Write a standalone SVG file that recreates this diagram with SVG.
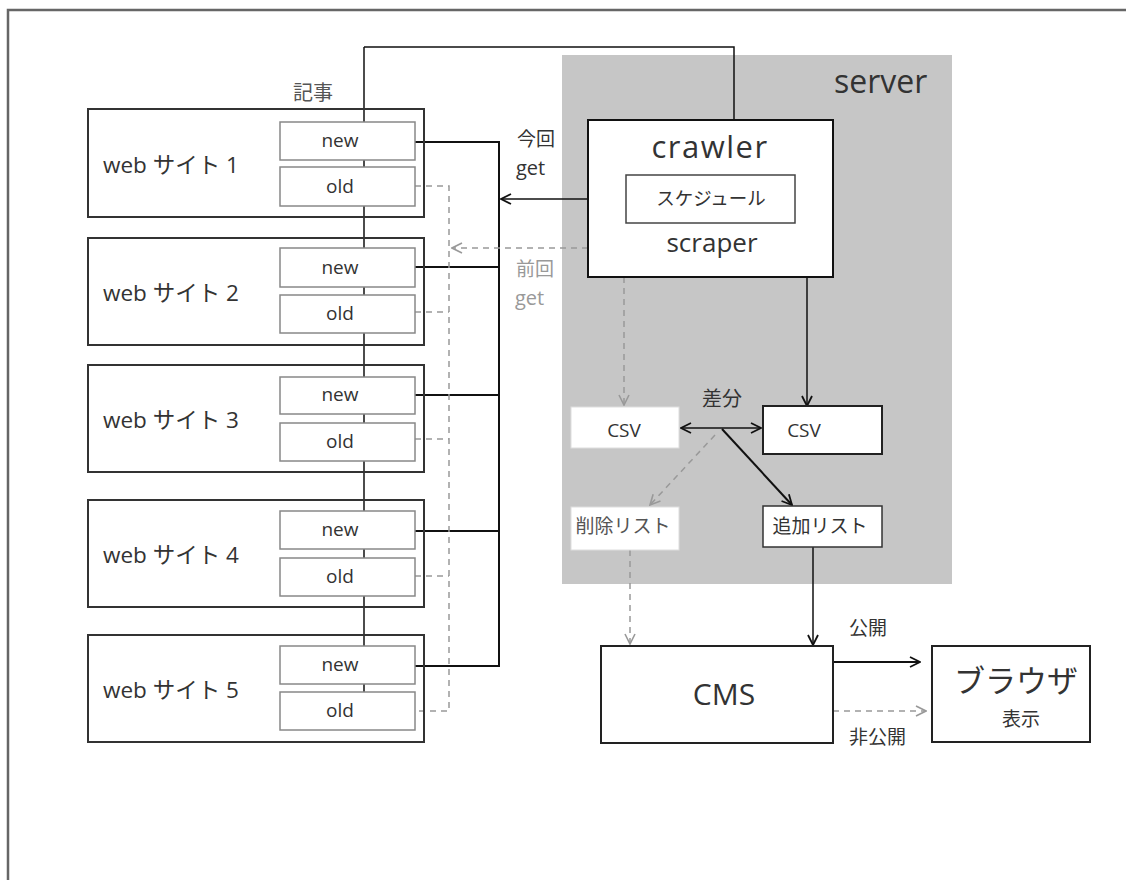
<svg xmlns="http://www.w3.org/2000/svg" width="1126" height="880" viewBox="0 0 1126 880">
<defs>
<style>
text{font-family:"Open Sans","Noto Sans CJK JP",sans-serif;fill:#333}
.site{fill:none;stroke:#333;stroke-width:2}
.sub{fill:#fff;stroke:#888;stroke-width:1.5}
.lbl{font-size:22.5px}
.sm{font-size:19px;text-anchor:middle}
.ln{fill:none;stroke:#111;stroke-width:1.5}
.bus{fill:none;stroke:#111;stroke-width:2}
.dash{fill:none;stroke:#999;stroke-width:1.5;stroke-dasharray:6 5}
.grey{fill:#999}
.mid{text-anchor:middle}
</style>
<marker id="ah" viewBox="0 0 12 12" refX="11" refY="6" markerWidth="12" markerHeight="12" markerUnits="userSpaceOnUse" orient="auto-start-reverse">
<path d="M1,1 L11,6 L1,11" fill="none" stroke="#111" stroke-width="1.8"/>
</marker>
<marker id="ahg" viewBox="0 0 12 12" refX="11" refY="6" markerWidth="12" markerHeight="12" markerUnits="userSpaceOnUse" orient="auto">
<path d="M1,1 L11,6 L1,11" fill="none" stroke="#999" stroke-width="1.6"/>
</marker>
</defs>
<rect width="1126" height="880" fill="#fff"/>
<path d="M8,880 V10 H1126" fill="none" stroke="#666" stroke-width="2.5"/>

<g id="server">
<rect x="562" y="55" width="390" height="529" fill="#c6c6c6"/>
<text x="834" y="93" style="font-size:32px">server</text>
</g>

<g id="connectors">
<path class="ln" d="M364,47 H734 V120"/>
<path class="ln" d="M364,47 V692"/>
<path class="bus" d="M415,142 H499 V666 H415 M415,267 H499 M415,395 H499 M415,531 H499"/>
<path class="dash" d="M415,186 H449 V711 H415 M415,312 H449 M415,439 H449 M415,576 H449"/>
<path class="ln" d="M626,199 H501" marker-end="url(#ah)"/>
<path class="ln" d="M795,199 H833"/>
<path class="dash" d="M588,248 H452" marker-end="url(#ahg)"/>
<path class="dash" d="M624,277 V405" marker-end="url(#ahg)"/>
<path class="ln" d="M807,277 V406" marker-end="url(#ah)"/>
<path class="ln" d="M681,428 H761" marker-start="url(#ah)" marker-end="url(#ah)"/>
<path class="ln" d="M722,429 L792,505" marker-end="url(#ah)" style="stroke-width:2"/>
<path class="dash" d="M715,435 L650,505" marker-end="url(#ahg)"/>
<path class="dash" d="M630,550 V644" marker-end="url(#ahg)"/>
<path class="ln" d="M813,547 V645" marker-end="url(#ah)"/>
<path class="ln" d="M833,662 H920" marker-end="url(#ah)" style="stroke-width:2"/>
<path class="dash" d="M833,711 H926" marker-end="url(#ahg)"/>
</g>

<text x="313" y="100" class="mid" style="font-size:20px;fill:#555">記事</text>
<text x="517" y="146" style="font-size:19px">今回</text>
<text x="516" y="175" style="font-size:20px">get</text>
<text x="516" y="276" style="font-size:19px" class="grey">前回</text>
<text x="515" y="305" style="font-size:20px" class="grey">get</text>

<g id="site1">
<rect class="site" x="88" y="109" width="336" height="108"/>
<text class="lbl" x="103" y="173">web サイト 1</text>
<rect class="sub" x="280" y="122" width="135" height="38"/>
<text class="sm" x="340" y="147">new</text>
<rect class="sub" x="280" y="167" width="135" height="39"/>
<text class="sm" x="340" y="193">old</text>
</g>
<g id="site2">
<rect class="site" x="88" y="238" width="336" height="107"/>
<text class="lbl" x="103" y="301">web サイト 2</text>
<rect class="sub" x="280" y="248" width="135" height="39"/>
<text class="sm" x="340" y="274">new</text>
<rect class="sub" x="280" y="295" width="135" height="38"/>
<text class="sm" x="340" y="320">old</text>
</g>
<g id="site3">
<rect class="site" x="88" y="365" width="336" height="107"/>
<text class="lbl" x="103" y="428">web サイト 3</text>
<rect class="sub" x="280" y="377" width="135" height="37"/>
<text class="sm" x="340" y="401">new</text>
<rect class="sub" x="280" y="423" width="135" height="38"/>
<text class="sm" x="340" y="448">old</text>
</g>
<g id="site4">
<rect class="site" x="88" y="500" width="336" height="107"/>
<text class="lbl" x="103" y="563">web サイト 4</text>
<rect class="sub" x="280" y="511" width="135" height="38"/>
<text class="sm" x="340" y="536">new</text>
<rect class="sub" x="280" y="558" width="135" height="38"/>
<text class="sm" x="340" y="583">old</text>
</g>
<g id="site5">
<rect class="site" x="88" y="635" width="336" height="107"/>
<text class="lbl" x="103" y="698">web サイト 5</text>
<rect class="sub" x="280" y="646" width="135" height="38"/>
<text class="sm" x="340" y="671">new</text>
<rect class="sub" x="280" y="692" width="135" height="38"/>
<text class="sm" x="340" y="717">old</text>
</g>

<g id="crawler">
<rect x="588" y="120" width="245" height="157" fill="#fff" stroke="#111" stroke-width="2"/>
<text x="710" y="158" class="mid" style="font-size:31px;letter-spacing:1.5px">crawler</text>
<text x="712" y="252" class="mid" style="font-size:26px">scraper</text>
</g>
<g id="schedule">
<rect x="626" y="175" width="169" height="48" fill="#fff" stroke="#444" stroke-width="1.5"/>
<text x="711" y="205" class="mid" style="font-size:18.5px">スケジュール</text>
</g>
<text x="722" y="406" class="mid" style="font-size:20px">差分</text>
<g id="csv-old">
<rect x="571" y="407" width="108" height="41" fill="#fff" stroke="#ddd" stroke-width="1"/>
<text x="624" y="437" class="mid" style="font-size:19px">CSV</text>
</g>
<g id="csv-new">
<rect x="763" y="406" width="119" height="48" fill="#fff" stroke="#222" stroke-width="2"/>
<text x="804" y="437" class="mid" style="font-size:19px">CSV</text>
</g>
<g id="delete-list">
<rect x="571" y="507" width="108" height="43" fill="#fff" stroke="#ddd" stroke-width="1"/>
<text x="623" y="533" class="mid" style="font-size:19px;fill:#555">削除リスト</text>
</g>
<g id="add-list">
<rect x="763" y="506" width="119" height="41" fill="#fff" stroke="#333" stroke-width="1.5"/>
<text x="820" y="533" class="mid" style="font-size:19px">追加リスト</text>
</g>
<g id="cms">
<rect x="601" y="646" width="232" height="97" fill="#fff" stroke="#222" stroke-width="2"/>
<text x="724" y="705" class="mid" style="font-size:30px">CMS</text>
</g>
<text x="849" y="635" style="font-size:19px">公開</text>
<text x="849" y="744" style="font-size:19px">非公開</text>
<g id="browser">
<rect x="932" y="646" width="158" height="96" fill="#fff" stroke="#222" stroke-width="2"/>
<text x="1016" y="692" class="mid" style="font-size:31px">ブラウザ</text>
<text x="1021" y="726" class="mid" style="font-size:19px">表示</text>
</g>
</svg>
